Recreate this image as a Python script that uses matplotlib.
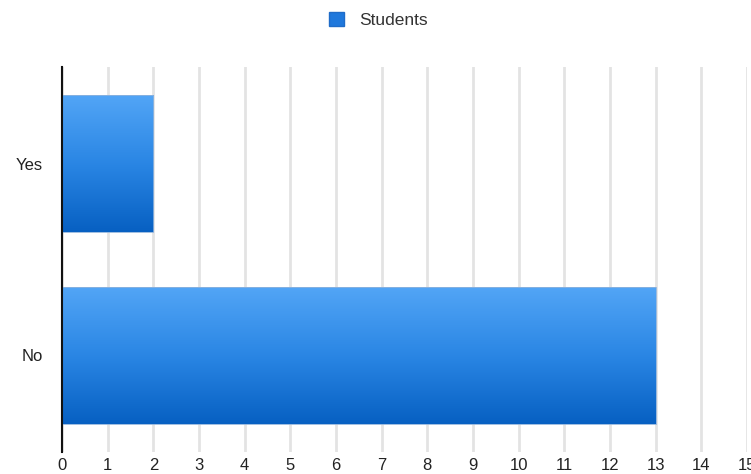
import numpy as np
import matplotlib
matplotlib.use("Agg")
import matplotlib.pyplot as plt
from matplotlib.patches import Patch
from matplotlib.colors import LinearSegmentedColormap

categories = ["No", "Yes"]
values = [13, 2]
series_name = "Students"
x_ticks = list(range(0, 16))

plt.rcParams['font.family'] = ['Liberation Sans', 'DejaVu Sans']

fig = plt.figure(figsize=(7.51, 4.74), dpi=100)
ax = fig.add_axes([62/751, 22/474, 685/751, 385/474])

y = np.arange(len(categories))
bars = ax.barh(y, values, height=0.715, color='none', edgecolor='#8fb3dc', linewidth=0.6, zorder=3)

cmap = LinearSegmentedColormap.from_list('g', ['#0760c2', '#2a86e4', '#52a5f6'])
grad = np.linspace(0, 1, 256).reshape(-1, 1)
for b in bars:
    x0, y0 = b.get_x(), b.get_y()
    w, h = b.get_width(), b.get_height()
    im = ax.imshow(grad, extent=[x0, x0 + w, y0, y0 + h], origin='lower', aspect='auto',
                   cmap=cmap, zorder=2)
    im.set_clip_path(b)

ax.set_xlim(0, 15)
ax.set_ylim(-0.5 - 0.005, 1.5 + 0.005)
ax.set_xticks(x_ticks)
ax.set_xticklabels([str(t) for t in x_ticks], fontsize=12, color='#222222')
ax.set_yticks(y)
ax.set_yticklabels(categories, fontsize=12, color='#222222')
ax.tick_params(axis='x', length=0, pad=4)
ax.tick_params(axis='y', length=0, pad=14)
ax.grid(axis='x', color='#e3e3e3', linewidth=2, zorder=0)
ax.set_axisbelow(True)
for s in ['top', 'right', 'bottom']:
    ax.spines[s].set_visible(False)
ax.spines['left'].set_color('#111111')
ax.spines['left'].set_linewidth(1.5)
ax.spines['left'].set_zorder(5)

handle = Patch(facecolor='#1f78dc', edgecolor='#1f6cc8', label=series_name)
fig.legend(handles=[handle], loc='upper center', bbox_to_anchor=(0.504, 1.0), frameon=False,
           fontsize=12.5, handlelength=0.85, handleheight=0.85, handletextpad=0.9,
           labelcolor='#333333', borderaxespad=0.3)

fig.savefig('out.png', dpi=100)
